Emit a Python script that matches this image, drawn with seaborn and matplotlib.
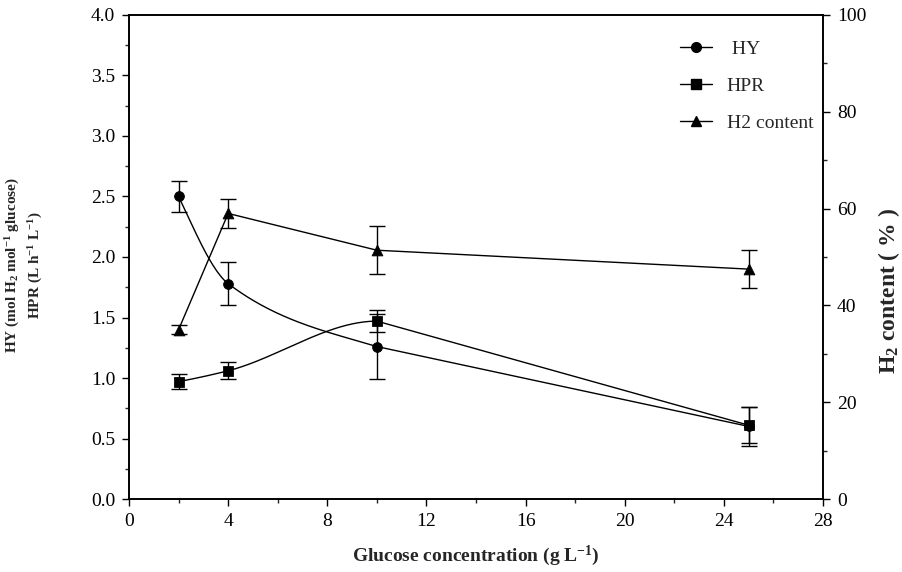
import numpy as np
import pandas as pd
import matplotlib
matplotlib.use("Agg")
import matplotlib.pyplot as plt
from matplotlib.lines import Line2D
from matplotlib.ticker import MultipleLocator, FormatStrFormatter
import seaborn as sns

sns.set_style("ticks")
plt.rcParams["font.family"] = ["Liberation Serif", "DejaVu Serif"]
plt.rcParams["mathtext.fontset"] = "custom"
plt.rcParams["mathtext.rm"] = "Liberation Serif"
plt.rcParams["mathtext.it"] = "Liberation Serif:italic"
plt.rcParams["mathtext.bf"] = "Liberation Serif:bold"

# data
glucose = [2, 4, 10, 25]
hy = [2.50, 1.78, 1.26, 0.60]
hy_err = [0.13, 0.18, 0.27, 0.16]
hpr = [0.97, 1.06, 1.47, 0.61]
hpr_err = [0.06, 0.07, 0.09, 0.15]
h2 = [35.0, 59.0, 51.4, 47.5]
h2_err = [1.0, 3.0, 5.0, 4.0]


def smooth(x, y, n=300):
    # monotone cubic curve through the points, last (long) segment kept straight
    x = np.asarray(x, float); y = np.asarray(y, float)
    h = np.diff(x); d = np.diff(y) / h
    m = np.zeros_like(y)
    for k in range(1, len(x) - 1):
        if d[k - 1] * d[k] > 0:
            w1, w2 = 2 * h[k] + h[k - 1], h[k] + 2 * h[k - 1]
            m[k] = (w1 + w2) / (w1 / d[k - 1] + w2 / d[k])
    s = ((2 * h[0] + h[1]) * d[0] - h[0] * d[1]) / (h[0] + h[1])
    m[0] = s if np.sign(s) == np.sign(d[0]) else 0.0
    ms, me = m[:-1].copy(), m[1:].copy()
    ms[-1] = me[-1] = d[-1]
    xs = np.linspace(x[0], x[-1], n)
    i = np.clip(np.searchsorted(x, xs) - 1, 0, len(h) - 1)
    t = (xs - x[i]) / h[i]
    ys = ((2*t**3 - 3*t**2 + 1) * y[i] + (t**3 - 2*t**2 + t) * h[i] * ms[i]
          + (-2*t**3 + 3*t**2) * y[i + 1] + (t**3 - t**2) * h[i] * me[i])
    return pd.DataFrame({"x": xs, "y": ys})


fig = plt.figure(figsize=(9.03, 5.72), dpi=100)
ax = fig.add_axes([0.1429, 0.1276, 0.7685, 0.8462])
ax2 = ax.twinx()

LW = 1.0
CAP = 5.5
for vals, err, mk in [(hy, hy_err, "o"), (hpr, hpr_err, "s")]:
    c = smooth(glucose, vals)
    sns.lineplot(data=c, x="x", y="y", ax=ax, color="black", lw=LW, sort=False)
    ax.errorbar(glucose, vals, yerr=err, fmt="none", ecolor="black",
                elinewidth=LW, capsize=CAP, capthick=LW)
    sns.scatterplot(x=glucose, y=vals, ax=ax, marker=mk, s=50, color="black",
                    edgecolor="black", zorder=5)

sns.lineplot(x=glucose, y=h2, ax=ax2, color="black", lw=LW)
ax2.errorbar(glucose, h2, yerr=h2_err, fmt="none", ecolor="black",
             elinewidth=LW, capsize=CAP, capthick=LW)
sns.scatterplot(x=glucose, y=h2, ax=ax2, marker="^", s=60, color="black",
                edgecolor="black", zorder=5)

ax.set_xlim(0, 28)
ax.set_ylim(0, 4)
ax2.set_ylim(0, 100)
ax.xaxis.set_major_locator(MultipleLocator(4))
ax.xaxis.set_minor_locator(MultipleLocator(2))
ax.yaxis.set_major_locator(MultipleLocator(0.5))
ax.yaxis.set_minor_locator(MultipleLocator(0.25))
ax.yaxis.set_major_formatter(FormatStrFormatter("%.1f"))
ax2.yaxis.set_major_locator(MultipleLocator(20))
ax2.yaxis.set_minor_locator(MultipleLocator(10))

for a in (ax, ax2):
    a.tick_params(which="major", direction="out", length=5, width=1,
                  labelsize=14, pad=5, colors="black")
    a.tick_params(which="minor", direction="out", length=3, width=1)
    for s in a.spines.values():
        s.set_visible(True)
        s.set_linewidth(1.2)
        s.set_color("black")
ax.tick_params(axis="x", which="both", top=False)
ax2.tick_params(axis="x", which="both", top=False)

ax.set_xlabel(r"Glucose concentration (g L$^{\mathbf{-1}}$)", fontsize=14,
              fontweight="bold", labelpad=10)
ax.set_ylabel("HY (mol H$_{\\mathbf{2}}$ mol$^{\\mathbf{-1}}$ glucose)\n"
              "HPR (L h$^{\\mathbf{-1}}$ L$^{\\mathbf{-1}}$)",
              fontsize=11, fontweight="bold", linespacing=1.35)
ax.yaxis.set_label_coords(-0.121, 0.483)
ax2.set_ylabel(r"H$_{\mathbf{2}}$ content ( % )", fontsize=17,
               fontweight="bold")
ax2.yaxis.set_label_coords(1.076, 0.43)

handles = [Line2D([], [], color="black", lw=LW, marker=m, markersize=ms)
           for m, ms in [("o", 7), ("s", 6.5), ("^", 7)]]
ax2.legend(handles, [" HY", "HPR", "H2 content"], loc="upper left",
           bbox_to_anchor=(0.794, 0.947), frameon=False, fontsize=14,
           handlelength=1.65, handletextpad=0.75, labelspacing=0.98,
           borderpad=0, borderaxespad=0)

fig.savefig("out.png", dpi=100)
